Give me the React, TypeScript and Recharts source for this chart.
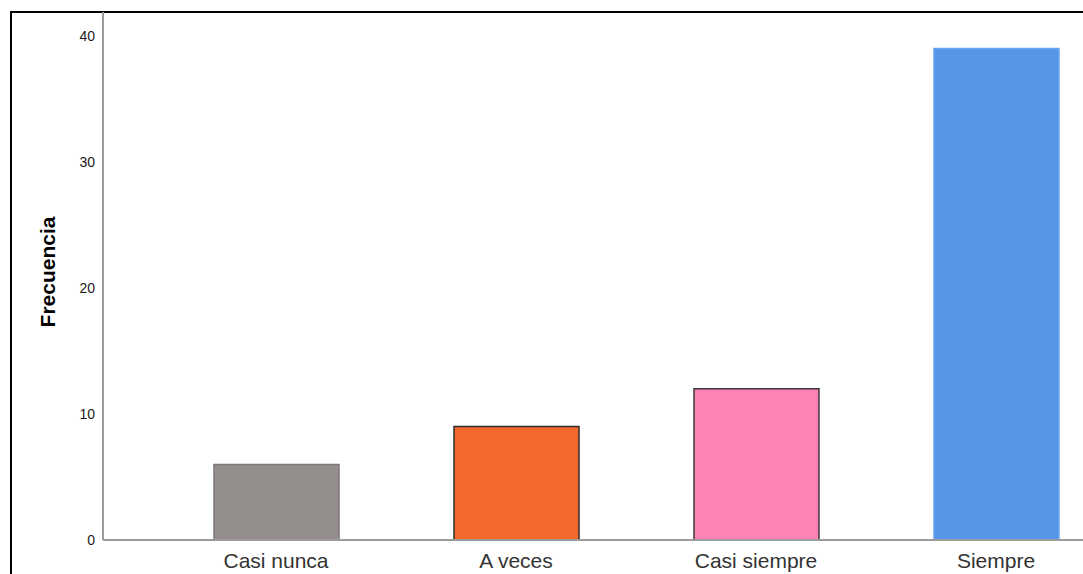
import React from 'react';
import { BarChart, Bar, XAxis, YAxis, Cell } from 'recharts';

// Response categories and their counts
const categories = ['Casi nunca', 'A veces', 'Casi siempre', 'Siempre'];
const frequencies = [6, 9, 12, 39];
const yTicks = [0, 10, 20, 30, 40];

const BAR_FILLS = ['#948f8d', '#f2692b', '#ff82b4', '#5596e6'];
const BAR_STROKES = ['#7d7876', '#2e2e2e', '#3a3a3a', '#6aa5ee'];

const FONT = '"Liberation Sans", Arial, sans-serif';

const data = categories.map((name, i) => ({ name, value: frequencies[i] }));

const AxisTitle = (props: any) => {
  const { viewBox } = props;
  const cx = viewBox.x + 47;
  const cy = viewBox.y + viewBox.height / 2 - 4;
  return (
    <text
      x={cx}
      y={cy}
      transform={`rotate(-90, ${cx}, ${cy})`}
      textAnchor="middle"
      dominantBaseline="central"
      fontFamily={FONT}
      fontWeight="bold"
      fontSize={21}
      fill="#000"
    >
      Frecuencia
    </text>
  );
};

export default function App() {
  return (
    <div
      style={{
        position: 'absolute',
        left: 0,
        top: 0,
        width: 1083,
        height: 574,
        overflow: 'hidden',
        background: '#fff',
      }}
    >
      {/* outer frame, runs off the right and bottom edges */}
      <div
        style={{
          position: 'absolute',
          left: 10,
          top: 11,
          width: 1300,
          height: 800,
          border: '2px solid #000',
        }}
      />
      <div style={{ position: 'absolute', left: 0, top: 0 }}>
        <BarChart
          width={1169}
          height={620}
          data={data}
          margin={{ top: 12, right: 0, bottom: 0, left: 0 }}
          barSize={125}
        >
          <XAxis
            dataKey="name"
            height={80}
            padding={{ left: 53, right: 53 }}
            tickLine={false}
            tickMargin={7}
            axisLine={{ stroke: '#9c9c9c', strokeWidth: 2 }}
            tick={{ fontFamily: FONT, fontSize: 21, fill: '#333' }}
            interval={0}
          />
          <YAxis
            width={103}
            domain={[0, 41.9]}
            ticks={yTicks}
            tickLine={false}
            axisLine={{ stroke: '#9c9c9c', strokeWidth: 2 }}
            tick={{ fontFamily: FONT, fontSize: 14, fill: '#1a1a1a' }}
            label={<AxisTitle />}
          />
          <Bar dataKey="value" isAnimationActive={false} strokeWidth={1.5}>
            {data.map((d, i) => (
              <Cell key={d.name} fill={BAR_FILLS[i]} stroke={BAR_STROKES[i]} />
            ))}
          </Bar>
        </BarChart>
      </div>
    </div>
  );
}
